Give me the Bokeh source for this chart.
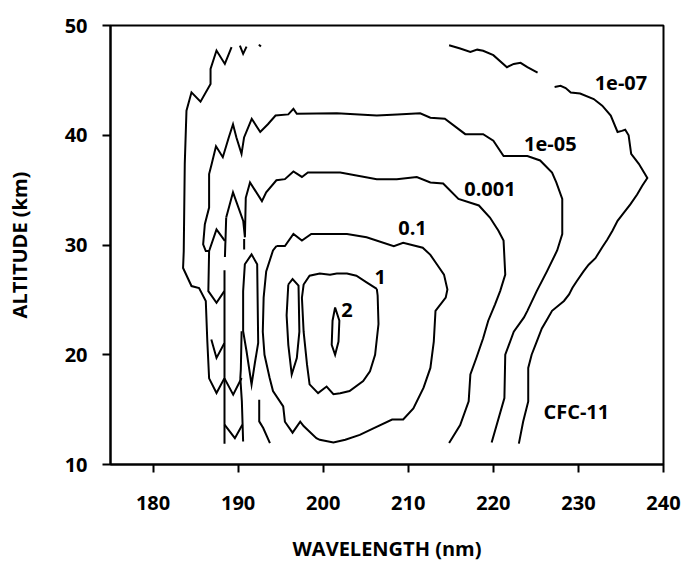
from bokeh.plotting import figure
from bokeh.models import Range1d, FixedTicker
from bokeh.core.properties import value
from bokeh.embed import file_html
from bokeh.resources import INLINE

# ---- data: contour segments (wavelength nm, altitude km)
# 1e-07
c7_left_w = [189.23, 188.44, 187.46, 186.76, 186.76, 185.58, 184.52, 183.93, 183.73, 183.61, 183.53,
             184.52, 185.41, 186.20, 186.38, 186.59, 187.46, 188.38]
c7_left_a = [48.02, 46.50, 47.72, 46.05, 44.68, 43.06, 43.91, 42.24, 37.40, 29.45, 27.90,
             26.26, 26.07, 24.89, 21.23, 17.85, 16.51, 17.85]
c7_tick_w = [190.21, 190.59, 190.99]
c7_tick_a = [48.17, 47.42, 48.08]
c7_dot_w = [192.44, 192.68]
c7_dot_a = [48.26, 48.08]
c7_top_w = [214.8, 216.1, 217.3, 218.1, 218.8, 220.0, 221.6, 222.4, 223.2, 224.0, 225.2]
c7_top_a = [48.2, 47.9, 47.6, 47.8, 47.7, 47.3, 46.2, 46.5, 46.6, 46.2, 45.7]
c7_right_w = [227.2, 227.9, 228.5, 229.1, 230.2, 231.8, 232.8, 233.8, 234.6, 235.1, 235.5, 235.9,
              236.2, 237.1, 238.1, 237.5, 236.9, 236.1, 235.3, 234.6, 234.0, 233.4, 232.8, 232.0,
              231.2, 230.6, 229.8, 229.3, 228.9, 228.3, 226.9, 226.3, 225.7, 225.1, 224.5, 224.1,
              224.1, 223.5, 223.0]
c7_right_a = [44.4, 44.5, 44.3, 43.9, 43.8, 43.3, 42.7, 41.8, 40.3, 40.4, 40.5, 40.0,
              38.3, 37.4, 36.1, 35.4, 34.6, 33.7, 32.9, 32.2, 31.3, 30.5, 29.8, 28.8,
              28.2, 27.6, 26.7, 26.1, 25.5, 24.9, 24.0, 23.2, 22.4, 21.2, 20.0, 18.8,
              15.75, 13.9, 11.9]
# 1e-05
c5_w = [188.44, 187.46, 186.59, 186.20, 185.89, 186.09, 186.59, 186.59, 186.9, 187.4, 188.2, 188.9,
        189.4, 189.8, 190.4, 190.7, 191.6, 192.6, 193.5, 194.4, 195.9, 196.5, 196.9, 201.6, 206.3,
        208.7, 211.4, 212.6, 214.3, 216.7, 218.8, 220.0, 221.2, 224.0, 225.5, 226.9, 227.4, 228.1,
        228.1, 227.5, 226.3, 225.1, 224.0, 223.6, 222.4, 221.4, 221.3, 219.8]
c5_a = [30.37, 31.43, 29.45, 29.45, 30.06, 31.89, 33.41, 36.46, 37.4, 39.0, 38.0, 39.8,
        41.0, 39.8, 38.3, 39.8, 41.5, 40.3, 41.0, 41.8, 41.9, 42.4, 41.95, 42.0, 41.8,
        41.9, 42.0, 41.6, 41.5, 40.1, 40.1, 39.5, 38.1, 38.1, 37.7, 36.6, 35.7, 34.2,
        31.0, 29.5, 27.6, 25.8, 24.0, 23.4, 22.1, 20.0, 16.05, 12.0]
# 0.001
c3_w = [188.6, 189.4, 190.6, 190.8, 190.9, 191.4, 192.8, 193.3, 194.5, 195.5, 196.5, 197.5, 198.2,
        202.0, 206.3, 208.65, 211.0, 212.6, 214.1, 215.9, 218.3, 219.6, 220.6, 221.2, 221.4, 220.8,
        220.2, 219.4, 218.8, 218.0, 217.3, 217.1, 216.1, 214.8]
c3_a = [32.5, 34.8, 32.2, 30.7, 34.3, 35.7, 34.0, 34.8, 35.9, 36.0, 36.7, 36.2, 36.6,
        36.6, 36.0, 36.0, 36.2, 35.7, 35.6, 34.2, 33.6, 32.5, 31.3, 30.4, 27.3, 25.8,
        24.6, 23.1, 21.5, 19.7, 18.2, 15.75, 13.6, 11.95]
# 0.1
c1_w = [194.5, 195.5, 196.5, 197.5, 198.6, 202.8, 205.1, 208.3, 209.4, 211.7, 212.6, 213.4, 214.2,
        214.6, 214.4, 213.2, 213.0, 212.6, 211.8, 210.6, 209.4, 208.1, 205.9, 204.3, 202.6, 201.2,
        199.6, 199.2, 197.7, 197.3, 196.4, 195.5, 195.3, 194.1, 193.7, 193.1, 192.9, 193.0, 193.3,
        194.1, 194.5]
c1_a = [29.9, 29.9, 31.0, 30.4, 31.0, 31.0, 30.7, 29.9, 30.2, 29.75, 29.1, 28.2, 27.3,
        25.95, 25.2, 24.0, 21.2, 18.8, 17.0, 15.1, 14.1, 14.1, 13.3, 12.7, 12.25, 12.0,
        12.25, 12.4, 13.5, 13.9, 12.9, 13.9, 15.3, 16.7, 17.9, 20.0, 22.1, 25.2, 27.6,
        29.5, 29.9]
c1_small_w = [190.59, 190.79, 191.58, 192.24, 192.36, 191.97, 191.58, 190.99, 190.59, 190.59]
c1_small_a = [25.80, 28.24, 29.15, 28.24, 21.08, 19.25, 17.28, 20.32, 22.15, 25.80]
# 1
c10_w = [206.3, 205.1, 203.9, 202.8, 201.6, 200.8, 199.6, 198.4, 197.7, 197.5, 197.7, 198.1, 198.4,
         199.4, 200.4, 201.2, 202.0, 203.1, 204.7, 205.5, 206.1, 206.5, 206.4, 206.3]
c10_a = [26.0, 26.6, 27.2, 27.4, 27.4, 27.3, 27.4, 27.2, 26.4, 25.2, 22.1, 19.1, 17.3,
         16.5, 17.1, 16.4, 16.5, 16.7, 17.6, 18.5, 20.0, 22.8, 25.4, 26.0]
c10_small_w = [195.9, 196.4, 197.1, 197.2, 196.9, 196.3, 195.9, 195.7, 195.9]
c10_small_a = [26.4, 26.9, 26.3, 22.1, 19.7, 18.2, 20.9, 23.6, 26.4]
# 2
c20_w = [201.4, 201.9, 201.8, 201.4, 201.0, 201.1, 201.4]
c20_a = [24.3, 23.1, 21.2, 20.0, 20.9, 23.1, 24.3]
# short pieces in the noisy short-wave region
v1_w = [186.59, 186.50, 187.46, 188.38]
v1_a = [29.45, 25.80, 24.73, 25.80]
v2_w = [186.85, 187.46, 188.38]
v2_a = [21.39, 19.71, 21.05]
v3_w = [188.4, 189.42, 190.41]
v3_a = [17.85, 16.36, 17.88]
v4_w = [188.4, 189.62, 190.50]
v4_a = [13.63, 12.40, 13.63]
col188a_w = [188.6, 188.45]
col188a_a = [32.5, 28.9]
col188b_w = [188.4, 188.4]
col188b_a = [27.7, 11.9]
col190a_w = [190.71, 190.71]
col190a_a = [30.55, 29.6]
col190b_w = [190.41, 190.32, 190.26, 190.44, 190.59]
col190b_a = [22.15, 18.68, 17.88, 15.75, 12.10]
col192_w = [192.48, 192.48, 192.95, 193.74]
col192_a = [15.91, 13.93, 13.32, 11.95]

# contour level labels
lab_text = ["1e-07", "1e-05", "0.001", "0.1", "1", "2", "CFC-11"]
lab_w = [235.0, 226.7, 219.6, 210.5, 206.7, 202.8, 229.75]
lab_a = [44.75, 39.2, 35.1, 31.55, 27.1, 24.1, 14.85]

x_ticks = [180, 190, 200, 210, 220, 230, 240]
y_ticks = [10, 20, 30, 40, 50]

segments = [
    (c7_left_w, c7_left_a), (c7_tick_w, c7_tick_a), (c7_dot_w, c7_dot_a),
    (c7_top_w, c7_top_a), (c7_right_w, c7_right_a),
    (c5_w, c5_a), (c3_w, c3_a), (c1_w, c1_a), (c1_small_w, c1_small_a),
    (c10_w, c10_a), (c10_small_w, c10_small_a), (c20_w, c20_a),
    (v1_w, v1_a), (v2_w, v2_a), (v3_w, v3_a), (v4_w, v4_a),
    (col188a_w, col188a_a), (col188b_w, col188b_a),
    (col190a_w, col190a_a), (col190b_w, col190b_a), (col192_w, col192_a),
]

FONT = "Open Sans"

p = figure(width=682, height=565, x_range=Range1d(175, 240), y_range=Range1d(10, 50),
           output_backend="svg", toolbar_location=None,
           min_border_left=110, min_border_right=19, min_border_top=25, min_border_bottom=101)

p.multi_line(xs=[s[0] for s in segments], ys=[s[1] for s in segments],
             line_color="black", line_width=2, line_join="miter")

p.text(x=lab_w, y=lab_a, text=lab_text, text_align="center", text_baseline="middle",
       text_font=value(FONT), text_font_style="bold", text_font_size="20px", text_color="black")

p.xgrid.visible = False
p.ygrid.visible = False
p.outline_line_color = "black"
p.outline_line_width = 2
p.background_fill_color = "white"
p.border_fill_color = "white"

for ax in (p.xaxis[0], p.yaxis[0]):
    ax.axis_line_width = 2
    ax.axis_line_color = "black"
    ax.major_tick_line_width = 2
    ax.major_tick_in = 0
    ax.major_tick_out = 8
    ax.minor_tick_line_color = None
    ax.major_label_text_font = FONT
    ax.major_label_text_font_style = "bold"
    ax.major_label_text_font_size = "20px"
    ax.major_label_text_color = "black"
    ax.axis_label_text_font = FONT
    ax.axis_label_text_font_style = "bold"
    ax.axis_label_text_font_size = "20px"
    ax.axis_label_text_color = "black"

p.xaxis.ticker = FixedTicker(ticks=x_ticks)
p.yaxis.ticker = FixedTicker(ticks=y_ticks)
p.xaxis.axis_label = "WAVELENGTH (nm)"
p.yaxis.axis_label = "ALTITUDE (km)"
p.xaxis.major_label_standoff = 23
p.yaxis.major_label_standoff = 15
p.xaxis.axis_label_standoff = 22
p.yaxis.axis_label_standoff = 29

open("out.html", "w").write(file_html(p, INLINE))
